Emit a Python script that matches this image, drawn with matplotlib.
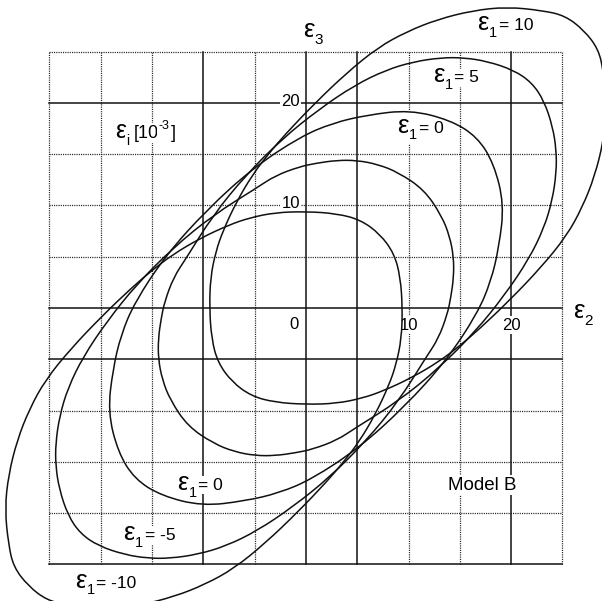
import numpy as np
import matplotlib
matplotlib.use('Agg')
import matplotlib.pyplot as plt
from matplotlib.path import Path
from matplotlib.patches import PathPatch

# strain sections for fixed eps_1, described along the hydrostatic diagonal:
# "along" = position on the eps2 = eps3 line, "width" = distance to the curve
along_p10 = [38.3, 38.0, 36.8, 34.6, 32.0, 29.0, 26.0, 22.9, 19.0, 14.6, 10.5,
             8.0, 5.5, 2.47, -0.42, -2.33, -4.46, -6.65, -8.63, -9.83, -10.2]
width_p10 = [0.0, 2.3, 4.2, 6.9, 9.0, 10.8, 12.1, 13.0, 13.4, 13.5, 13.4,
             13.2, 12.87, 12.09, 11.03, 10.1, 8.7, 6.65, 4.38, 2.33, 0.0]

along_p5 = [31.1, 30.7, 29.5, 28.14, 26.59, 24.4, 21.9, 18.7, 14.6, 10.0, 5.0,
            0.0, -4.9, -7.0, -9.3, -10.7, -12.3, -13.7, -14.85, -15.7, -16.3]
width_p5 = [0.0, 2.1, 4.5, 6.36, 7.92, 9.55, 10.9, 12.0, 12.8, 13.3, 13.3,
            12.8, 11.67, 11.24, 10.18, 9.26, 8.06, 6.65, 4.95, 3.0, 0.0]

along_0 = [23.6, 22.9, 20.8, 17.5, 14.6, 11.4, 6.0, 0.0, -6.0, -11.4, -14.6,
           -17.5, -20.8, -22.9, -23.6]
width_0 = [0.0, 3.0, 6.5, 9.1, 10.9, 12.2, 13.3, 13.6, 13.3, 12.2, 10.9,
           9.1, 6.5, 3.0, 0.0]

along_m5 = [16.3, 15.7, 14.85, 13.7, 12.3, 10.7, 9.3, 7.0, 4.9, 0.0, -5.0,
            -10.0, -14.6, -18.7, -21.9, -24.4, -26.59, -28.14, -29.5, -30.7, -31.1]
width_m5 = [0.0, 3.0, 4.95, 6.65, 8.06, 9.26, 10.18, 11.24, 11.67, 12.8, 13.3,
            13.3, 12.8, 12.0, 10.9, 9.55, 7.92, 6.36, 4.5, 2.1, 0.0]

along_m10 = [10.2, 9.83, 8.63, 6.65, 4.46, 2.33, 0.42, -2.47, -5.5, -8.0, -10.5,
             -14.6, -19.0, -22.9, -26.0, -29.0, -32.0, -34.6, -36.8, -38.0, -38.3]
width_m10 = [0.0, 2.33, 4.38, 6.65, 8.7, 10.1, 11.03, 12.09, 12.87, 13.2, 13.4,
             13.5, 13.4, 13.0, 12.1, 10.8, 9.0, 6.9, 4.2, 2.3, 0.0]

grid_ticks = [-25, -20, -15, -10, -5, 0, 5, 10, 15, 20, 25]
solid_x = [-10, 0, 5, 20]
solid_y = [20, 0, -5, -25]
tick_labels = [10, 20]

plt.rcParams['font.family'] = ['Liberation Sans', 'DejaVu Sans']

WHITE = dict(boxstyle='square,pad=0.1', fc='white', ec='none')


def egg_path(along, width):
    a = np.asarray(along)
    w = np.asarray(width)
    e2 = (a - w) / np.sqrt(2)
    e3 = (a + w) / np.sqrt(2)
    # upper-left half, then the mirrored half across eps2 = eps3
    pts = np.array(list(zip(e2, e3)) + list(zip(e3[-2:0:-1], e2[-2:0:-1])))
    mids = (pts + np.roll(pts, -1, axis=0)) / 2
    verts = [mids[-1]]
    codes = [Path.MOVETO]
    for i in range(len(pts)):
        verts += [pts[i], mids[i]]
        codes += [Path.CURVE3, Path.CURVE3]
    return Path(verts, codes)


def label(ax, x, y, pieces):
    # pieces: (text, fontsize, dy in points, gap in points), chained left to right
    prev = None
    for text, size, dy, gap in pieces:
        if prev is None:
            prev = ax.text(x, y, text, fontsize=size, va='baseline', ha='left',
                           bbox=WHITE, zorder=2)
        else:
            prev = ax.annotate(text, xy=(1, y), xycoords=(prev, 'data'),
                               xytext=(gap, dy), textcoords='offset points',
                               fontsize=size, va='baseline', ha='left',
                               bbox=WHITE, zorder=2)


fig = plt.figure(figsize=(6.02, 6.01), dpi=100)
ax = fig.add_axes([0, 0, 1, 1])
ax.set_xlim(-29.82, 28.85)
ax.set_ylim(-28.56, 30.02)
ax.axis('off')

for t in grid_ticks:
    if t in solid_x:
        ax.plot([t, t], [-25, 25], color='#111111', lw=1.1, zorder=1)
    else:
        ax.plot([t, t], [-25, 25], color='#222222', lw=0.9,
                ls=(0, (0.9, 0.9)), zorder=1)
    if t in solid_y:
        ax.plot([-25, 25], [t, t], color='#111111', lw=1.1, zorder=1)
    else:
        ax.plot([-25, 25], [t, t], color='#222222', lw=0.9,
                ls=(0, (0.9, 0.9)), zorder=1)

for along, width in [(along_p10, width_p10), (along_p5, width_p5),
                     (along_0, width_0), (along_m5, width_m5),
                     (along_m10, width_m10)]:
    ax.add_patch(PathPatch(egg_path(along, width), fc='none', ec='#111111',
                           lw=1.1, zorder=3))

# axis numbers
for v in tick_labels:
    ax.text(-0.6, v - 0.3, str(v), fontsize=12, ha='right', va='baseline',
            bbox=WHITE, zorder=2)
    ax.text(v, -2.1, str(v), fontsize=12, ha='center', va='baseline',
            bbox=WHITE, zorder=2)
ax.text(-0.7, -2.0, '0', fontsize=12, ha='right', va='baseline',
        bbox=WHITE, zorder=2)

label(ax, -0.3, 26.4, [('ε', 19, 0, 0), ('3', 11, -5, 0)])
label(ax, 26.0, -1.0, [('ε', 19, 0, 0), ('2', 11, -5, 0)])
label(ax, -18.6, 16.6, [('ε', 18, 0, 0), ('i', 10, -5, 0), ('[10', 13, 0, 3),
                        ('-3', 9, 6, 0), (']', 13, 0, 1)])

label(ax, 16.7, 27.1, [('ε', 19, 0, 0), ('1', 10.5, -5, 0), ('= 10', 12.5, 0, 1)])
label(ax, 12.4, 22.0, [('ε', 19, 0, 0), ('1', 10.5, -5, 0), ('= 5', 12.5, 0, 1)])
label(ax, 8.9, 17.1, [('ε', 19, 0, 0), ('1', 10.5, -5, 0), ('= 0', 12.5, 0, 1)])
label(ax, -12.6, -17.7, [('ε', 19, 0, 0), ('1', 10.5, -5, 0), ('= 0', 12.5, 0, 1)])
label(ax, -17.8, -22.6, [('ε', 19, 0, 0), ('1', 10.5, -5, 0), ('= -5', 12.5, 0, 1)])
label(ax, -22.5, -27.3, [('ε', 19, 0, 0), ('1', 10.5, -4.5, 0), ('= -10', 12.5, 0, 1)])

ax.text(13.8, -17.7, 'Model B', fontsize=13.5, ha='left', va='baseline',
        bbox=WHITE, zorder=2)

fig.savefig('out.png', dpi=100)
